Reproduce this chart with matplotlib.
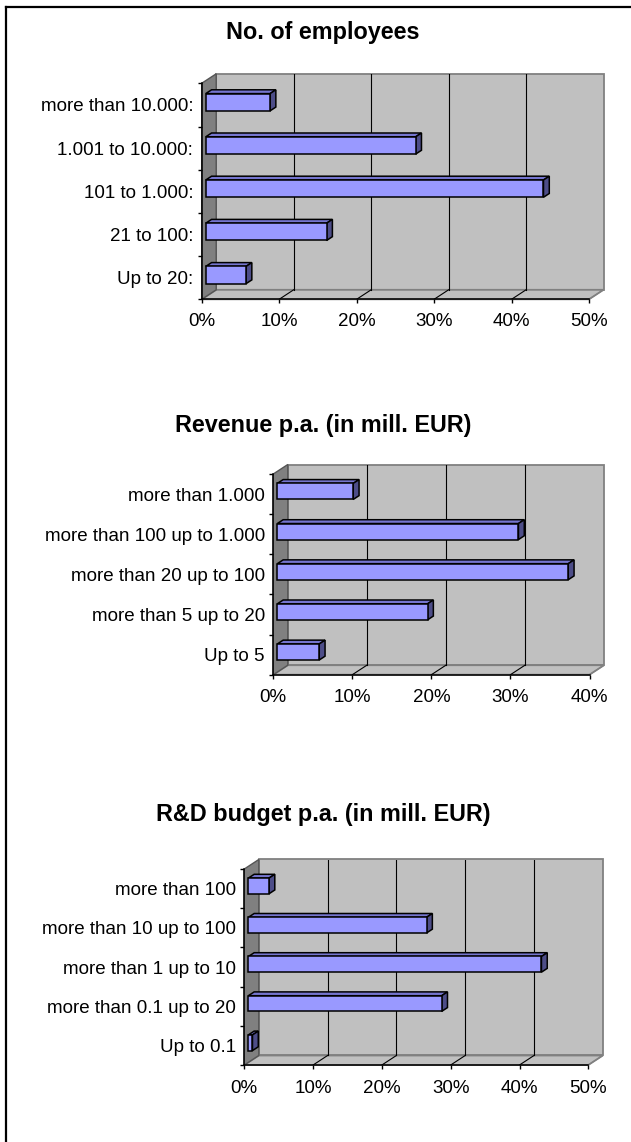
import matplotlib
matplotlib.use("Agg")
import matplotlib.pyplot as plt
from matplotlib.patches import Polygon
from matplotlib.lines import Line2D

plt.rcParams['font.family'] = ['Liberation Sans', 'DejaVu Sans']

# ---------------- data ----------------
emp_cats = ["more than 10.000:", "1.001 to 10.000:", "101 to 1.000:", "21 to 100:", "Up to 20:"]
emp_vals = [8.3, 27.1, 43.6, 15.6, 5.2]

rev_cats = ["more than 1.000", "more than 100 up to 1.000", "more than 20 up to 100",
            "more than 5 up to 20", "Up to 5"]
rev_vals = [9.6, 30.5, 36.8, 19.0, 5.3]

rd_cats = ["more than 100", "more than 10 up to 100", "more than 1 up to 10",
           "more than 0.1 up to 20", "Up to 0.1"]
rd_vals = [3.0, 25.9, 42.6, 28.1, 0.6]

titles = ["No. of employees", "Revenue p.a. (in mill. EUR)", "R&D budget p.a. (in mill. EUR)"]
xmaxes = [50, 40, 50]

# ---------------- style ----------------
W, H = 631, 1142
WALL = '#C0C0C0'
SIDEWALL = '#808080'
EDGE = '#808080'
FRONT = '#9999FF'
TOP = '#7575CF'
SIDE = '#4D4D88'
FS_TICK = 13.5
FS_TITLE = 16.8

fig = plt.figure(figsize=(W / 100, H / 100), dpi=100)


def make_chart(cats, vals, xmax, title, x0, x1, yb, yt, title_y, xpad):
    n = len(cats)
    dxp, dyp = 14.5, 9.5
    pxpct = (x1 - x0) / xmax
    pxcat = (yb - yt) / n
    DX = dxp / pxpct
    DY = dyp / pxcat
    ax = fig.add_axes([x0 / W, 1 - yb / H, (x1 + dxp - x0) / W, (yb - yt + dyp) / H])
    ax.set_xlim(0, xmax + DX)
    ax.set_ylim(-0.5, n - 0.5 + DY)
    ax.patch.set_visible(False)

    def P(x, y, d):
        return (x + d * DX, y + d * DY)

    ytop = n - 0.5
    # walls
    ax.add_patch(Polygon([P(0, -0.5, 1), P(xmax, -0.5, 1), P(xmax, ytop, 1), P(0, ytop, 1)],
                         closed=True, facecolor=WALL, edgecolor=EDGE, lw=1.3, zorder=1, clip_on=False))
    ax.add_patch(Polygon([P(0, -0.5, 0), P(xmax, -0.5, 0), P(xmax, -0.5, 1), P(0, -0.5, 1)],
                         closed=True, facecolor=WALL, edgecolor=EDGE, lw=1.3, zorder=1, clip_on=False))
    ax.add_patch(Polygon([P(0, -0.5, 0), P(0, ytop, 0), P(0, ytop, 1), P(0, -0.5, 1)],
                         closed=True, facecolor=SIDEWALL, edgecolor='#555555', lw=1.0, zorder=1, clip_on=False))
    # gridlines
    for xv in range(10, xmax, 10):
        a, b = P(xv, -0.5, 1), P(xv, ytop, 1)
        ax.plot([a[0], b[0]], [a[1], b[1]], color='#000000', lw=0.8, zorder=2)
    for xv in range(10, xmax + 1, 10):
        a, b = P(xv, -0.5, 0), P(xv, -0.5, 1)
        ax.plot([a[0], b[0]], [a[1], b[1]], color='#000000' if xv < xmax else EDGE, lw=0.8, zorder=2)

    # bars
    f1, f2 = 0.28, 0.68
    h = 0.4
    ys = [n - 1 - i for i in range(n)]
    ax.barh([y + f1 * DY for y in ys], vals, height=h, left=f1 * DX,
            color=FRONT, edgecolor='black', lw=1.1, zorder=5)
    for y, v in zip(ys, vals):
        ax.add_patch(Polygon([P(0, y + h / 2, f1), P(v, y + h / 2, f1), P(v, y + h / 2, f2), P(0, y + h / 2, f2)],
                             closed=True, facecolor=TOP, edgecolor='black', lw=1.1, zorder=4))
        ax.add_patch(Polygon([P(v, y - h / 2, f1), P(v, y + h / 2, f1), P(v, y + h / 2, f2), P(v, y - h / 2, f2)],
                             closed=True, facecolor=SIDE, edgecolor='black', lw=1.1, zorder=4))

    # spines & ticks
    for s in ['top', 'right']:
        ax.spines[s].set_visible(False)
    ax.spines['left'].set_bounds(-0.5, ytop)
    ax.spines['bottom'].set_bounds(0, xmax)
    for s in ['left', 'bottom']:
        ax.spines[s].set_linewidth(1.1)
        ax.spines[s].set_zorder(6)
    ax.set_xticks(range(0, xmax + 1, 10))
    ax.set_xticklabels([f"{t}%" for t in range(0, xmax + 1, 10)], fontsize=FS_TICK)
    ax.tick_params(axis='x', direction='out', length=3, width=1, pad=xpad)
    ax.set_yticks([k - 0.5 for k in range(n + 1)])
    ax.set_yticklabels([])
    ax.tick_params(axis='y', which='major', direction='out', length=3, width=1)
    ax.set_yticks(ys, minor=True)
    ax.set_yticklabels(cats, minor=True, fontsize=FS_TICK)
    ax.tick_params(axis='y', which='minor', length=0, pad=6)

    fig.text(323 / W, 1 - title_y / H, title, ha='center', va='center',
             fontsize=FS_TITLE, fontweight='bold')
    return ax


make_chart(emp_cats, emp_vals, xmaxes[0], titles[0], 201.7, 589.0, 299.3, 83.3, 33, 7)
make_chart(rev_cats, rev_vals, xmaxes[1], titles[1], 273.3, 589.5, 674.7, 474.0, 425, 7)
make_chart(rd_cats, rd_vals, xmaxes[2], titles[2], 244.3, 588.3, 1065.0, 869.0, 815, 8)

# outer frame (top and left edges)
fig.add_artist(Line2D([6 / W, 1.0], [1 - 7 / H, 1 - 7 / H], color='black', lw=1.6))
fig.add_artist(Line2D([6 / W, 6 / W], [1 - 7 / H, 0.0], color='black', lw=1.6))

fig.savefig("out.png", dpi=100)
